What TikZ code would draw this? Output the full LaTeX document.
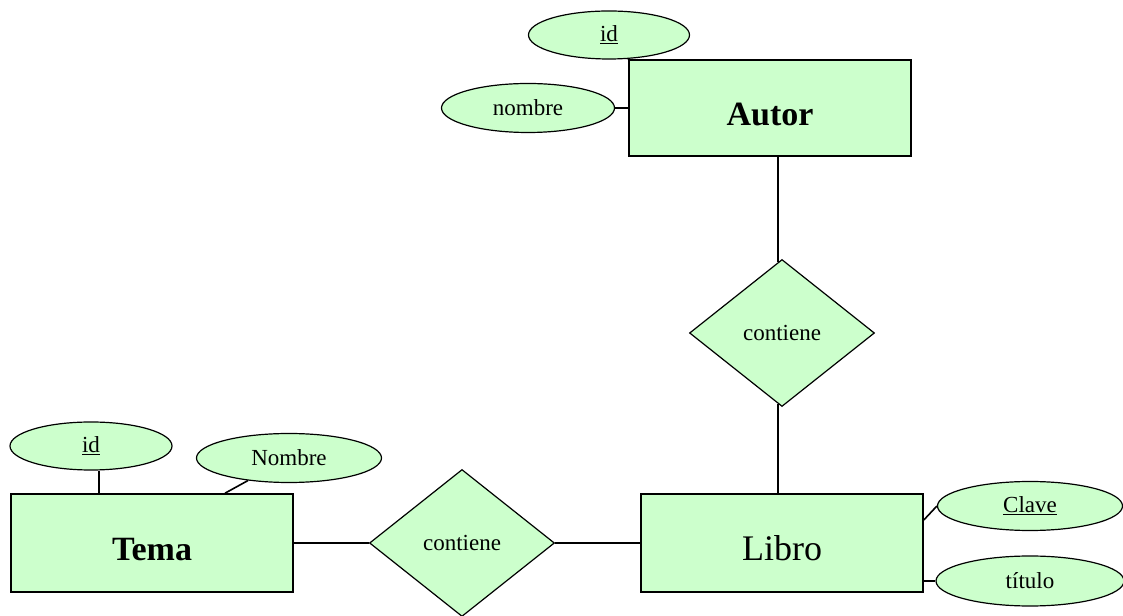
\documentclass[tikz,border=0pt]{standalone}
\usepackage{fontspec}
\setmainfont{Liberation Serif}
\usepackage{xcolor}
\usetikzlibrary{shapes.geometric}
\definecolor{erfill}{HTML}{CCFFCC}
\tikzstyle{entity} = [rectangle, minimum width=282pt, minimum height=98pt, text height=36pt, text depth=0pt, text centered, draw=black, line width=1.6pt, fill=erfill, font=\fontsize{36}{40}\selectfont]
\tikzstyle{attrib} = [ellipse, minimum width=176pt, minimum height=49pt, inner sep=0pt, draw=black, line width=1.2pt, fill=erfill, font=\fontsize{23}{26}\selectfont]
\tikzstyle{relation} = [diamond, shape aspect=1.26, minimum width=185pt, minimum height=147pt, inner sep=0pt, draw=black, line width=1.2pt, fill=erfill, font=\fontsize{23}{26}\selectfont]
\tikzstyle{link} = [line width=1.6pt]

\begin{document}
\begin{tikzpicture}[x=1pt, y=1pt]
        \useasboundingbox (0,0) rectangle (1123,615);
        \node (libro) [entity] at (782,72) {Libro};
        \node (contlib) [relation, left of=libro, node distance=320pt] {contiene};
        \node (tema) [entity, left of=contlib, node distance=310pt, font=\fontsize{34}{40}\selectfont\bfseries] {Tema};
        \node (contaut) [relation, above of=libro, node distance=210pt] {contiene};
        \node (autor) [entity, minimum height=96pt, above of=contaut, node distance=225pt, xshift=-12pt, font=\fontsize{34}{40}\selectfont\bfseries] {Autor};
        
        \node (autorid) [attrib, minimum width=161pt, minimum height=48pt, above of=autor, node distance=73pt, xshift=-161pt] {\underline{id}};
        \node (autornom) [attrib, minimum width=173pt, left of=autor, node distance=242pt] {nombre};
        \node (clave) [attrib, minimum width=185pt, right of=libro, node distance=248pt, yshift=37pt] {\underline{Clave}};
        \node (titulo) [attrib, minimum width=188pt, minimum height=50pt, right of=libro, node distance=248pt, yshift=-38pt] {título};
        \node (temaid) [attrib, minimum width=162pt, minimum height=48pt, above of=tema, node distance=97pt, xshift=-61pt] {\underline{id}};
        \node (temanom) [attrib, minimum width=185pt, above of=tema, node distance=85pt, xshift=137pt] {Nombre};
        
        \draw [link] ([xshift=-4pt, yshift=-3pt]contaut.north) -- ([xshift=-4pt]contaut.north |- autor.south);
        \draw [link] ([xshift=-4pt, yshift=3pt]contaut.south) -- ([xshift=-4pt]contaut.south |- libro.north);
        \draw [link] (tema.east) -- (contlib.west);
        \draw [link] (contlib.east) -- (libro.west);
        
        \draw [link] (autornom.east) -- (autornom.east -| autor.west);
        \draw [link] (autorid) -- (autor.north west);
        \draw [link] (clave.west) -- ([yshift=23pt]libro.east);
        \draw [link] (titulo.west) -- (titulo.west -| libro.east);
        \draw [link] ([xshift=8pt]temaid.south) -- ([xshift=8pt]temaid.south |- tema.north);
        \draw [link] (temanom) -- ([xshift=73pt]tema.north);
        % attributes are joined to the box edge
        
    \end{tikzpicture}
\end{document}
